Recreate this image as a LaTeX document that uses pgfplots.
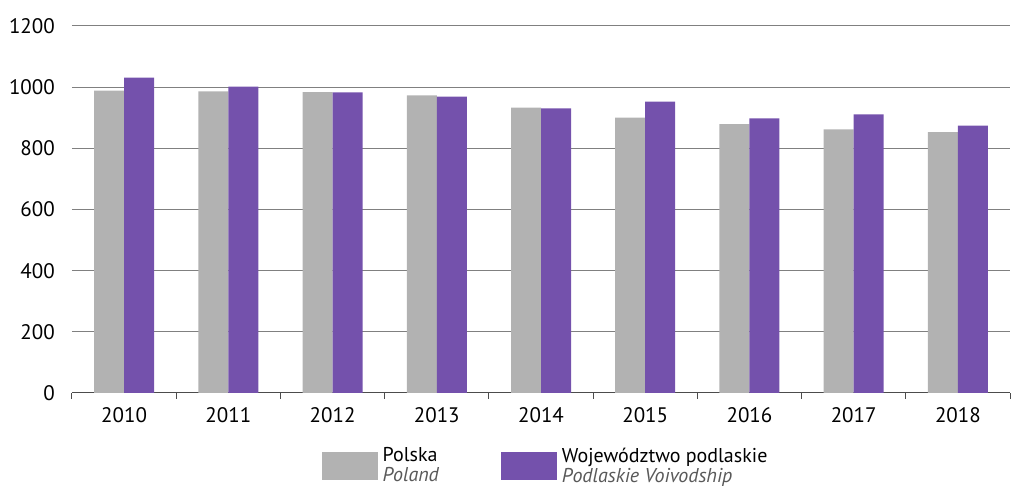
\documentclass[border=0pt]{standalone}
\usepackage{pgfplots}
\pgfplotsset{compat=1.18}
\usepackage{fontspec}
\setmainfont{PT Sans}
\definecolor{pgray}{HTML}{B2B2B2}
\definecolor{ppurple}{HTML}{7451AC}
\definecolor{gridc}{HTML}{808080}
\begin{document}
\fontsize{21}{23}\selectfont
\begin{tikzpicture}
\begin{axis}[
  name=ax,
  scale only axis,
  width=938pt, height=367pt,
  xmin=-0.5, xmax=8.5,
  ymin=0, ymax=1200,
  ytick={0,200,...,1200},
  xtick={0,...,8},
  xticklabels={2010,2011,2012,2013,2014,2015,2016,2017,2018},
  ymajorgrids,
  grid style={gridc, line width=1pt},
  axis x line*=bottom,
  axis y line*=left,
  y axis line style={draw=none},
  x axis line style={draw=black!70, line width=1pt},
  major tick length=0pt,
  extra x ticks={-0.5,0.5,...,8.5},
  extra x tick labels={},
  extra x tick style={major tick length=6pt, tick align=outside, tick style={black!70, line width=1pt}, grid=none},
  xticklabel style={yshift=-7pt},
  yticklabel style={xshift=-10pt},
  /pgf/number format/assume math mode=true,
  /pgf/number format/1000 sep={},
  ybar=0pt,
  bar width=30pt,
  legend columns=2,
  legend cell align=left,
  legend style={at={(0.5,0)}, anchor=north, yshift=-52pt, xshift=4pt, draw=none,
    nodes={align=left, inner sep=0.5pt, font=\fontsize{20}{20}\selectfont},
    /tikz/every odd column/.append style={column sep=4pt},
    /tikz/every even column/.append style={column sep=62pt}},
  legend image code/.code={\fill[#1] (0pt,-14pt) rectangle (56pt,14pt);},
]
\addplot[fill=pgray, draw=none] coordinates {(0,989) (1,986) (2,984) (3,973) (4,933) (5,900) (6,879) (7,862) (8,853)};
\addplot[fill=ppurple, draw=none] coordinates {(0,1031) (1,1002) (2,983) (3,969) (4,931) (5,953) (6,898) (7,911) (8,874)};
\legend{Polska\\\textcolor{black!65}{\itshape Poland},Województwo podlaskie\\\textcolor{black!65}{\itshape Podlaskie Voivodship}}
\end{axis}
\pgfresetboundingbox
\path ([shift={(-72pt,-98pt)}]ax.south west) rectangle ([shift={(1pt,26pt)}]ax.north east);
\end{tikzpicture}
\end{document}
